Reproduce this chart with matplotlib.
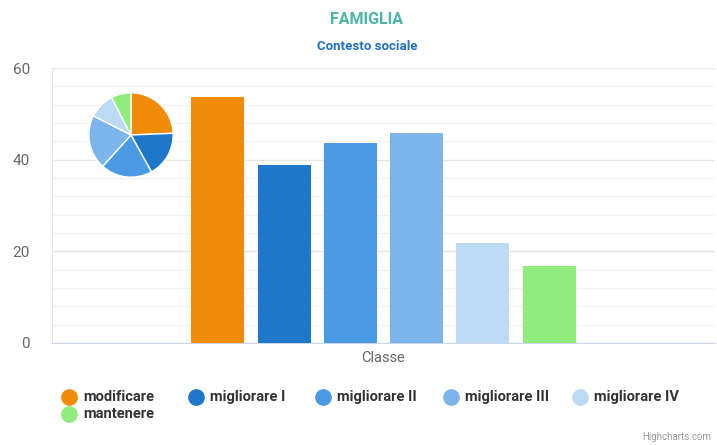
import matplotlib.pyplot as plt
from matplotlib.lines import Line2D

# data
series = ['modificare', 'migliorare I', 'migliorare II', 'migliorare III',
          'migliorare IV', 'mantenere']
values = [53.7, 38.8, 43.6, 45.8, 21.8, 16.8]
colors = ['#f08b07', '#1f77c9', '#4a9be3', '#7bb5ec', '#bddaf5', '#90ed7d']
category = 'Classe'

plt.rcParams['font.family'] = ['Roboto', 'DejaVu Sans']

W, H = 717, 445
fig = plt.figure(figsize=(W / 100, H / 100), dpi=100)

# main axes: plot area in pixels 52..715 x 68..343
ax = fig.add_axes([52 / W, (H - 343) / H, 663 / W, 275 / H])
n = len(values)
for i, (v, c) in enumerate(zip(values, colors)):
    ax.bar((i - (n - 1) / 2) * 0.1, v, width=0.08, color=c, zorder=3)

ax.set_xlim(-0.5, 0.5)
ax.set_ylim(0, 60)
ax.set_yticks([0, 20, 40, 60])
ax.set_yticks(range(0, 61, 4), minor=True)
ax.grid(axis='y', which='major', color='#e6e6e6', linewidth=1, zorder=0)
ax.grid(axis='y', which='minor', color='#f2f2f2', linewidth=1, zorder=0)
ax.tick_params(axis='y', which='both', length=0, labelsize=11,
               labelcolor='#666666', pad=16)
ax.set_xticks([0])
ax.set_xticklabels([category])
ax.tick_params(axis='x', length=0, labelsize=10.5, labelcolor='#666666', pad=6)
for s in ['top', 'right']:
    ax.spines[s].set_visible(False)
ax.spines['left'].set_color('#e6e6e6')
ax.spines['bottom'].set_color('#ccd6eb')

# titles
fig.text(367 / W, 1 - 19 / H, 'FAMIGLIA', ha='center', va='center',
         fontsize=11.5, fontweight='bold', color='#4cb5a5')
fig.text(367 / W, 1 - 46 / H, 'Contesto sociale', ha='center', va='center',
         fontsize=9.5, fontweight='bold', color='#1f6fc5')

# pie inset
pax = fig.add_axes([88 / W, (H - 178) / H, 86 / W, 86 / H])
pax.pie(values, colors=colors, startangle=90, counterclock=False,
        wedgeprops=dict(edgecolor='white', linewidth=1))
pax.set_xlim(-1.02, 1.02)
pax.set_ylim(-1.02, 1.02)
pax.set_aspect('equal')

# legend
leg_x = [69, 196, 323, 451, 580, 69]
leg_y = [397, 397, 397, 397, 397, 414]
for name, c, x, y in zip(series, colors, leg_x, leg_y):
    fig.add_artist(Line2D([x / W], [1 - y / H], marker='o', markersize=11,
                          color=c, linestyle='none'))
    fig.text((x + 14) / W, 1 - y / H, name, ha='left', va='center',
             fontsize=10.5, fontweight='bold', color='#333333')

fig.text(711 / W, 1 - 437 / H, 'Highcharts.com', ha='right', va='center',
         fontsize=7, color='#999999')

fig.savefig('out.png', dpi=100)
